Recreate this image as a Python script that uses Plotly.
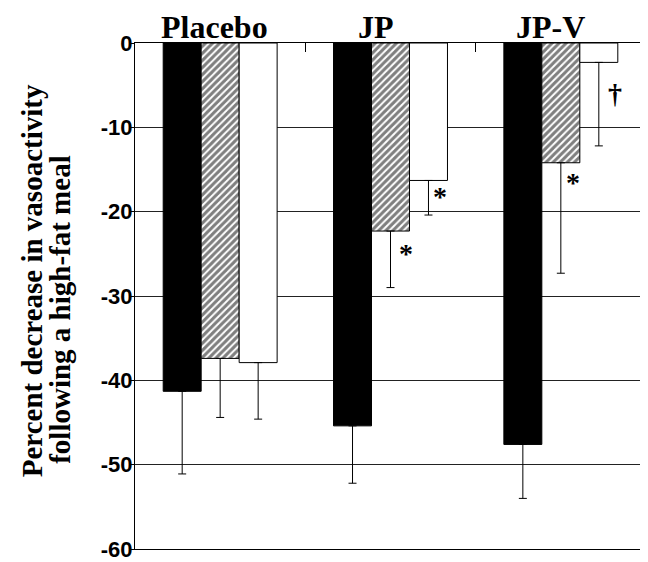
import plotly.graph_objects as go

# ---- data ----
groups = ["Placebo", "JP", "JP-V"]
series_names = ["Baseline", "Hatched", "Open"]
black_vals = [-41.3, -45.4, -47.6]
black_err = [9.8, 6.8, 6.4]
hatch_vals = [-37.4, -22.3, -14.2]
hatch_err = [7.0, 6.7, 13.1]
white_vals = [-37.9, -16.3, -2.3]
white_err = [6.7, 4.1, 9.9]

ytick_vals = [0, -10, -20, -30, -40, -50, -60]
ytick_text = ["0", "-10", "-20", "-30", "-40", "-50", "-60"]

# significance markers: (text, category position, value)
marker_text = ["*", "*", "*", "\u2020"]
marker_x = [1.09, 1.29, 2.07, 2.32]
marker_y = [-24.3, -17.5, -15.8, -5.3]

title_x = [-0.033, 0.915, 1.937]
ytitle_lines = ["Percent decrease in vasoactivity", "following a high-fat meal"]

SERIF = "Liberation Serif"
SANS = "Liberation Sans"

fig = go.Figure()

def err(arr):
    return dict(type="data", symmetric=False, array=[0] * len(arr), arrayminus=arr,
                color="black", thickness=1, width=4)

fig.add_trace(go.Bar(
    x=groups, y=black_vals, name=series_names[0],
    marker=dict(color="black", line=dict(color="black", width=1)),
    error_y=err(black_err)))
fig.add_trace(go.Bar(
    x=groups, y=hatch_vals, name=series_names[1],
    marker=dict(color="white", line=dict(color="black", width=1),
                pattern=dict(shape="/", fgcolor="black", bgcolor="white",
                             size=5, solidity=0.6)),
    error_y=err(hatch_err)))
fig.add_trace(go.Bar(
    x=groups, y=white_vals, name=series_names[2],
    marker=dict(color="white", line=dict(color="black", width=1)),
    error_y=err(white_err)))

annotations = []
for t, x, y in zip(marker_text, marker_x, marker_y):
    annotations.append(dict(
        x=x, y=y, xref="x", yref="y", text="<b>%s</b>" % t, showarrow=False,
        font=dict(family=SERIF, size=28, color="black"),
        xanchor="center", yanchor="middle", yshift=-6))

for g, x in zip(groups, title_x):
    annotations.append(dict(
        x=x, y=1, xref="x", yref="paper", text="<b>%s</b>" % g, showarrow=False,
        font=dict(family=SERIF, size=32, color="black"),
        xanchor="center", yanchor="bottom", yshift=-4))

for line, xp, yp in zip(ytitle_lines, [-0.2016, -0.1468], [0.531, 0.4746]):
    annotations.append(dict(
        x=xp, y=yp, xref="paper", yref="paper", text="<b>%s</b>" % line,
        showarrow=False, textangle=-90,
        font=dict(family=SERIF, size=29, color="black"),
        xanchor="center", yanchor="middle"))

fig.update_layout(
    width=640, height=554,
    margin=dict(l=127, r=2, t=35, b=13),
    paper_bgcolor="white", plot_bgcolor="white",
    barmode="group", bargap=0.331, bargroupgap=0,
    showlegend=False,
    annotations=annotations,
    xaxis=dict(
        side="top", showticklabels=False, automargin=False,
        ticks="inside", tickson="boundaries", ticklen=9, tickcolor="black",
        showline=True, linecolor="black", linewidth=1, mirror=True,
        showgrid=False),
    yaxis=dict(
        range=[-60, 0], tickvals=ytick_vals, ticktext=ytick_text,
        automargin=False,
        tickfont=dict(family=SANS, size=22, color="black", weight="bold"),
        ticks="outside", ticklen=3, tickcolor="black",
        ticklabelstandoff=-6, ticklabeloverflow="allow",
        showline=True, linecolor="black", linewidth=1, mirror=True,
        showgrid=True, gridcolor="#222", gridwidth=1, zeroline=False),
)

fig.write_html("out.html")
